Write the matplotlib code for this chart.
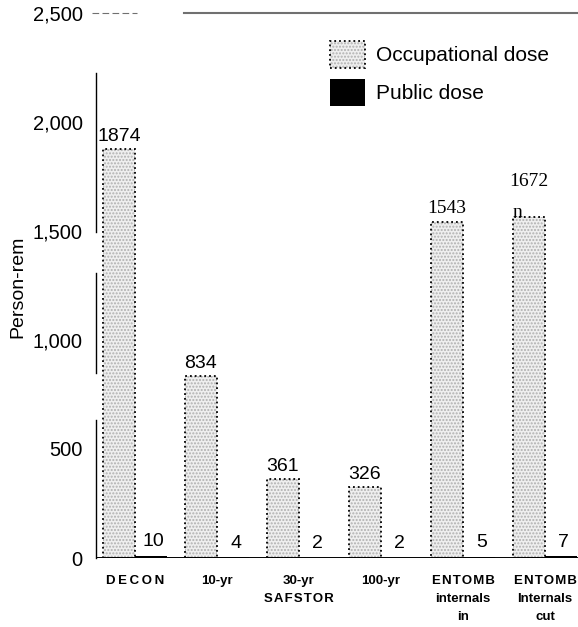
import matplotlib.pyplot as plt
from matplotlib.patches import Patch
from matplotlib.legend_handler import HandlerTuple

# data
categories = ['D\u2009E\u2009C\u2009O\u2009N', '10-yr',
              '30-yr\nS\u200aA\u200aF\u200aS\u200aT\u200aO\u200aR', '100-yr',
              'E\u200aN\u200aT\u200aO\u200aM\u200aB\ninternals\nin',
              'E\u200aN\u200aT\u200aO\u200aM\u200aB\nInternals\ncut']
occupational = [1874, 834, 361, 326, 1543, 1565]
occ_labels = ['1874', '834', '361', '326', '1543', '1672']
public = [10, 4, 2, 2, 5, 7]
pub_labels = ['10', '4', '2', '2', '5', '7']
yticks = [0, 500, 1000, 1500, 2000, 2500]

plt.rcParams['font.family'] = ['Liberation Sans', 'DejaVu Sans']

fig = plt.figure(figsize=(5.78, 6.27), dpi=100)
ax = fig.add_axes([96 / 578, 69 / 627, 482 / 578, 545 / 627])

x = list(range(len(categories)))
w = 0.39
xmin, xmax = -0.475, 5.403

occ_x = [i - w / 2 for i in x]
pub_x = [i + w / 2 for i in x]

# stippled occupational bars: dotted fill, then dotted black outline on top
ax.bar(occ_x, occupational, w, color='#efefef', edgecolor='#b0b0b0',
       hatch='.....', linewidth=0, zorder=2)
ax.bar(occ_x, occupational, w, fill=False, edgecolor='black',
       linestyle=':', linewidth=1.3, zorder=3)
ax.bar(pub_x, public, w, color='black', zorder=3)

# value labels
for i, (h, s) in enumerate(zip(occupational, occ_labels)):
    if i == 4:
        ax.annotate(s, (occ_x[i], h), xytext=(0, 3), textcoords='offset points',
                    ha='center', va='bottom', fontsize=14, family='Liberation Serif')
    elif i == 5:
        ax.annotate(s, (occ_x[i], h), xytext=(0, 19), textcoords='offset points',
                    ha='center', va='bottom', fontsize=14, family='Liberation Serif')
        ax.annotate('n', (occ_x[i], h), xytext=(-8, -3), textcoords='offset points',
                    ha='center', va='bottom', fontsize=14, family='Liberation Serif')
    else:
        ax.annotate(s, (occ_x[i], h), xytext=(0, 3), textcoords='offset points',
                    ha='center', va='bottom', fontsize=14)
for i, (h, s) in enumerate(zip(public, pub_labels)):
    ax.annotate(s, (pub_x[i], h), xytext=(2, 4), textcoords='offset points',
                ha='center', va='bottom', fontsize=14)

ax.set_xlim(xmin, xmax)
ax.set_ylim(0, 2500)

for sp in ax.spines.values():
    sp.set_visible(False)

# broken left axis line as in the scan
for y0, y1 in [(0, 633), (849, 1307), (1495, 2225)]:
    ax.plot([xmin, xmin], [y0, y1], color='black', lw=1, clip_on=False, zorder=4)
ax.axhline(0, color='black', lw=1.4, zorder=4)
ax.plot([xmin + 88 / 82, xmax], [2500, 2500], color='#707070', lw=1.5, clip_on=False)
ax.plot([xmin - 4 / 82, xmin + 41 / 82], [2500, 2500], color='#707070', lw=0.8,
        linestyle=(0, (6, 3)), clip_on=False)

ax.set_yticks(yticks)
ax.set_yticklabels([f'{v:,}' for v in yticks], fontsize=14.5)
ax.tick_params(axis='y', length=0, pad=9.5)
ax.set_xticks(x)
ax.set_xticklabels(categories, fontsize=9.5, fontweight='bold', linespacing=1.68,
                   va='top')
ax.tick_params(axis='x', length=0, pad=12)

fig.text(18 / 578, 1 - 287 / 627, 'Person-rem', rotation=90, ha='center',
         va='center', fontsize=14)

h_occ = (Patch(facecolor='#efefef', edgecolor='#b0b0b0', hatch='.....', linewidth=0),
         Patch(fill=False, edgecolor='black', linestyle=':', linewidth=1.3))
h_pub = Patch(facecolor='black')
ax.legend([h_occ, h_pub], ['Occupational dose', 'Public dose'],
          handler_map={tuple: HandlerTuple(ndivide=1, pad=0)},
          loc='upper left', bbox_to_anchor=(330 / 578, 1 - 41 / 627),
          bbox_transform=fig.transFigure, frameon=False, fontsize=15,
          borderpad=0, borderaxespad=0, handlelength=1.7, handleheight=1.6,
          handletextpad=0.5, labelspacing=0.55)

fig.savefig('out.png', dpi=100)
